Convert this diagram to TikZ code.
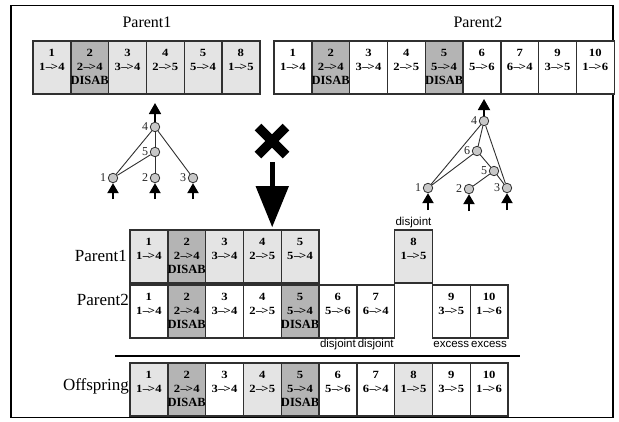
\documentclass[tikz,border=0pt]{standalone}
\usepackage{fontspec}
\setmainfont{Liberation Serif}
\newfontfamily\sansf{Liberation Sans}
\newfontfamily\widef[FakeStretch=1.15]{Liberation Serif}
\usetikzlibrary{calc,arrows.meta}
\definecolor{lg}{HTML}{E4E4E4}
\definecolor{dg}{HTML}{B4B4B4}
\definecolor{bd}{HTML}{303030}
\definecolor{nf}{HTML}{C8C8C8}
\tikzset{
  cellbox/.style={draw=bd, line width=1.4pt, minimum width=37.8pt, minimum height=53pt,
    inner sep=0pt, outer sep=0pt, anchor=north west},
  celltxt/.style={font=\widef\fontsize{11}{11}\selectfont\bfseries, inner sep=0pt},
  distxt/.style={font=\fontsize{12.5}{12.5}\selectfont\bfseries, inner sep=0pt},
  biglab/.style={font=\fontsize{16}{16}\selectfont, inner sep=0pt},
  midlab/.style={font=\fontsize{17}{17}\selectfont, inner sep=0pt},
  smlab/.style={font=\sansf\fontsize{11.5}{11.5}\selectfont, inner sep=0pt},
  neu/.style={circle, draw=bd, fill=nf, line width=0.8pt, minimum size=9.5pt, inner sep=0pt},
  nlab/.style={font=\fontsize{12}{12}\selectfont, text=black!85, inner sep=0pt, anchor=east},
  edge/.style={draw=bd, line width=0.9pt},
  outarr/.style={draw=black, line width=1.8pt, -{Triangle[width=12pt,length=11pt]}},
  inarr/.style={draw=black, line width=2pt, -{Triangle[width=11pt,length=10pt]}},
  frame/.style={draw=black, line width=1.2pt}
}
\newcommand\arr[2]{#1\kern0.5pt\textendash\kern-1.2pt\textgreater\kern0.3pt#2}
% name, column, x0, y, fill, num, from, to
\newcommand\gcell[8]{%
  \node[cellbox,fill=#5] (#1) at ({#3+#2*37.8},#4) {};
  \node[celltxt] (#1n) at ($(#1.north)+(0,12)$) {#6};
  \node[celltxt] (#1c) at ($(#1.north)+(0,26)$) {\arr{#7}{#8}};}
\newcommand\disab[1]{\node[distxt] (#1d) at ($(#1.north)+(0,39)$) {DISAB};}
\newcommand\neuron[4]{%
  \node[neu] (#1) at (#2,#3) {};
  \node[nlab] (#1l) at ($(#1.west)+(-1.5,0)$) {#4};}
\begin{document}
\begin{tikzpicture}[x=1pt,y=-1pt]
\useasboundingbox (0,0) rectangle (619,421);
\draw[frame] (11,5.5) rectangle (613,417.5);

% ---------- top labels ----------
\node[biglab] (p1t) at (147,22) {Parent1};
\node[biglab] (p2t) at (478,22) {Parent2};

% ---------- top Parent1 genome ----------
\gcell{ta}{0}{33}{41}{lg}{1}{1}{4}
\gcell{tb}{1}{33}{41}{dg}{2}{2}{4}\disab{tb}
\gcell{tc}{2}{33}{41}{lg}{3}{3}{4}
\gcell{td}{3}{33}{41}{lg}{4}{2}{5}
\gcell{te}{4}{33}{41}{lg}{5}{5}{4}
\gcell{tf}{5}{33}{41}{lg}{8}{1}{5}

% ---------- top Parent2 genome ----------
\gcell{ua}{0}{274}{41}{white}{1}{1}{4}
\gcell{ub}{1}{274}{41}{dg}{2}{2}{4}\disab{ub}
\gcell{uc}{2}{274}{41}{white}{3}{3}{4}
\gcell{ud}{3}{274}{41}{white}{4}{2}{5}
\gcell{ue}{4}{274}{41}{dg}{5}{5}{4}\disab{ue}
\gcell{uf}{5}{274}{41}{white}{6}{5}{6}
\gcell{ug}{6}{274}{41}{white}{7}{6}{4}
\gcell{uh}{7}{274}{41}{white}{9}{3}{5}
\gcell{ui}{8}{274}{41}{white}{10}{1}{6}

% ---------- Parent1 network ----------
\neuron{a4}{155}{127}{4}
\neuron{a5}{155}{152}{5}
\neuron{a1}{113}{178}{1}
\neuron{a2}{155}{178}{2}
\neuron{a3}{193}{178}{3}
\draw[edge] (a4) -- (a1);
\draw[edge] (a4) -- (a5);
\draw[edge] (a4) -- (a3);
\draw[edge] (a5) -- (a1);
\draw[edge] (a5) -- (a2);
\coordinate (a4o) at (155,103);
\draw[outarr] (a4) -- (a4o);
\coordinate (a1i) at (113,199);
\coordinate (a2i) at (155,199);
\coordinate (a3i) at (193,199);
\draw[inarr] (a1i) -- (a1);
\draw[inarr] (a2i) -- (a2);
\draw[inarr] (a3i) -- (a3);

% ---------- Parent2 network ----------
\neuron{b4}{484}{121}{4}
\neuron{b6}{477}{151}{6}
\neuron{b5}{494}{171}{5}
\neuron{b1}{428}{188}{1}
\neuron{b2}{469}{189}{2}
\neuron{b3}{507}{188}{3}
\draw[edge] (b4) -- (b1);
\draw[edge] (b4) -- (b6);
\draw[edge] (b4) -- (b3);
\draw[edge] (b6) -- (b1);
\draw[edge] (b6) -- (b5);
\draw[edge] (b5) -- (b2);
\draw[edge] (b5) -- (b3);
\coordinate (b4o) at (484,99);
\draw[outarr] (b4) -- (b4o);
\coordinate (b1i) at (428,210);
\coordinate (b2i) at (469,211);
\coordinate (b3i) at (507,210);
\draw[inarr] (b1i) -- (b1);
\draw[inarr] (b2i) -- (b2);
\draw[inarr] (b3i) -- (b3);

% ---------- cross and down arrow ----------
\draw[line width=9.5pt] (258,127) -- (286,155);
\draw[line width=9.5pt] (258,155) -- (286,127);
\fill (269.5,162) rectangle (275,187);
\fill (255.5,186) -- (289,186) -- (272.2,227) -- cycle;

% ---------- aligned Parent1 ----------
\node[midlab, anchor=east] (p1m) at (127,256) {Parent1};
\gcell{ma}{0}{130}{230}{lg}{1}{1}{4}
\gcell{mb}{1}{130}{230}{dg}{2}{2}{4}\disab{mb}
\gcell{mc}{2}{130}{230}{lg}{3}{3}{4}
\gcell{md}{3}{130}{230}{lg}{4}{2}{5}
\gcell{me}{4}{130}{230}{lg}{5}{5}{4}
\gcell{mh}{7}{130}{230}{lg}{8}{1}{5}
\node[smlab] (djt) at ($(mh.north)+(0,-7)$) {disjoint};

% ---------- aligned Parent2 ----------
\node[midlab, anchor=east] (p2m) at (129,300) {Parent2};
\gcell{na}{0}{130}{285}{white}{1}{1}{4}
\gcell{nb}{1}{130}{285}{dg}{2}{2}{4}\disab{nb}
\gcell{nc}{2}{130}{285}{white}{3}{3}{4}
\gcell{nd}{3}{130}{285}{white}{4}{2}{5}
\gcell{ne}{4}{130}{285}{dg}{5}{5}{4}\disab{ne}
\gcell{nf}{5}{130}{285}{white}{6}{5}{6}
\gcell{ng}{6}{130}{285}{white}{7}{6}{4}
\gcell{ni}{8}{130}{285}{white}{9}{3}{5}
\gcell{nj}{9}{130}{285}{white}{10}{1}{6}
\node[smlab] (dj6) at ($(nf.south)+(0,7)$) {disjoint};
\node[smlab] (dj7) at ($(ng.south)+(0,7)$) {disjoint};
\node[smlab] (ex9) at ($(ni.south)+(0,6)$) {excess};
\node[smlab] (ex10) at ($(nj.south)+(0,6)$) {excess};

% ---------- separator ----------
\coordinate (sepl) at (115,356);
\coordinate (sepr) at (520,356);
\draw[draw=black, line width=1.2pt] (sepl) -- (sepr);

% ---------- offspring ----------
\node[midlab, anchor=east] (offl) at (129,386) {Offspring};
\gcell{oa}{0}{130}{363}{lg}{1}{1}{4}
\gcell{ob}{1}{130}{363}{dg}{2}{2}{4}\disab{ob}
\gcell{oc}{2}{130}{363}{white}{3}{3}{4}
\gcell{od}{3}{130}{363}{lg}{4}{2}{5}
\gcell{oe}{4}{130}{363}{dg}{5}{5}{4}\disab{oe}
\gcell{of}{5}{130}{363}{white}{6}{5}{6}
\gcell{og}{6}{130}{363}{white}{7}{6}{4}
\gcell{oh}{7}{130}{363}{lg}{8}{1}{5}
\gcell{oi}{8}{130}{363}{white}{9}{3}{5}
\gcell{oj}{9}{130}{363}{white}{10}{1}{6}
\end{tikzpicture}
\end{document}
